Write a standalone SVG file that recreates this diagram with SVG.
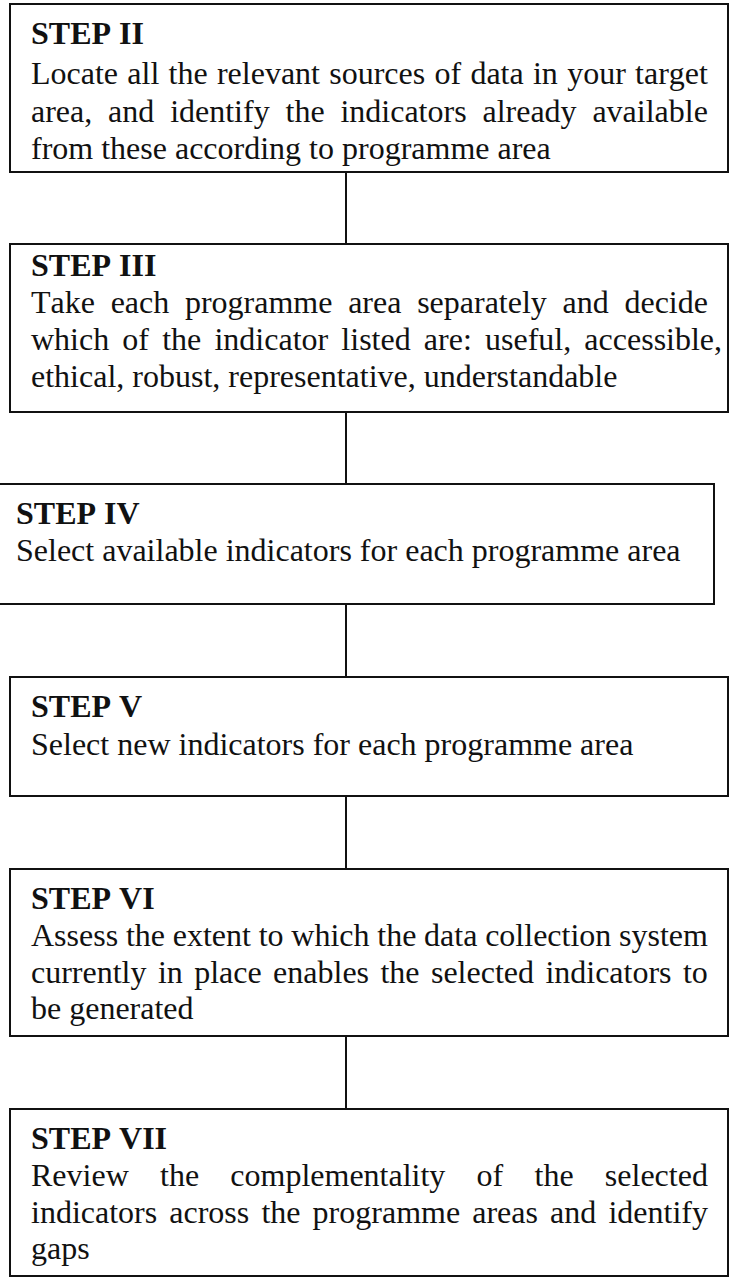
<svg xmlns="http://www.w3.org/2000/svg" width="730" height="1277" viewBox="0 0 730 1277">
  <style>
    .box { fill: #ffffff; stroke: #111111; stroke-width: 2; }
    .link { stroke: #111111; stroke-width: 2; fill: none; }
    text { font-family: "Liberation Serif", "Times New Roman", serif; font-size: 32px; fill: #111111; font-kerning: none; }
    .head { font-weight: bold; }
  </style>
  <rect x="0" y="0" width="730" height="1277" fill="#ffffff"/>

  <!-- vertical links between consecutive steps -->
  <g id="connectors">
    <line class="link" x1="346" y1="172" x2="346" y2="244"/>
    <line class="link" x1="346" y1="412" x2="346" y2="484"/>
    <line class="link" x1="346" y1="604" x2="346" y2="677"/>
    <line class="link" x1="346" y1="796" x2="346" y2="869"/>
    <line class="link" x1="346" y1="1036" x2="346" y2="1109"/>
  </g>

  <g id="step2">
    <rect class="box" x="10" y="4" width="718" height="168"/>
    <text class="head" x="31" y="44">STEP II</text>
    <text x="31" y="84" word-spacing="1.27">Locate all the relevant sources of data in your target</text>
    <text x="31" y="121.5" word-spacing="7.83">area, and identify the indicators already available</text>
    <text x="31" y="159">from these according to programme area</text>
  </g>

  <g id="step3">
    <rect class="box" x="10" y="244" width="718" height="168"/>
    <text class="head" x="31" y="276">STEP III</text>
    <text x="31" y="313" word-spacing="7.7">Take each programme area separately and decide</text>
    <text x="31" y="350" word-spacing="5.17">which of the indicator listed are: useful, accessible,</text>
    <text x="31" y="387">ethical, robust, representative, understandable</text>
  </g>

  <g id="step4">
    <rect class="box" x="-5" y="484" width="719" height="120"/>
    <text class="head" x="16" y="524">STEP IV</text>
    <text x="16" y="561">Select available indicators for each programme area</text>
  </g>

  <g id="step5">
    <rect class="box" x="10" y="677" width="718" height="119"/>
    <text class="head" x="31" y="717">STEP V</text>
    <text x="31" y="755">Select new indicators for each programme area</text>
  </g>

  <g id="step6">
    <rect class="box" x="10" y="869" width="718" height="167"/>
    <text class="head" x="31" y="909">STEP VI</text>
    <text x="31" y="946" word-spacing="-0.25">Assess the extent to which the data collection system</text>
    <text x="31" y="983" word-spacing="3.4">currently in place enables the selected indicators to</text>
    <text x="31" y="1019">be generated</text>
  </g>

  <g id="step7">
    <rect class="box" x="10" y="1109" width="718" height="167"/>
    <text class="head" x="31" y="1149">STEP VII</text>
    <text x="31" y="1186" word-spacing="23.24">Review the complementality of the selected</text>
    <text x="31" y="1223" word-spacing="4.12">indicators across the programme areas and identify</text>
    <text x="31" y="1259">gaps</text>
  </g>
</svg>
